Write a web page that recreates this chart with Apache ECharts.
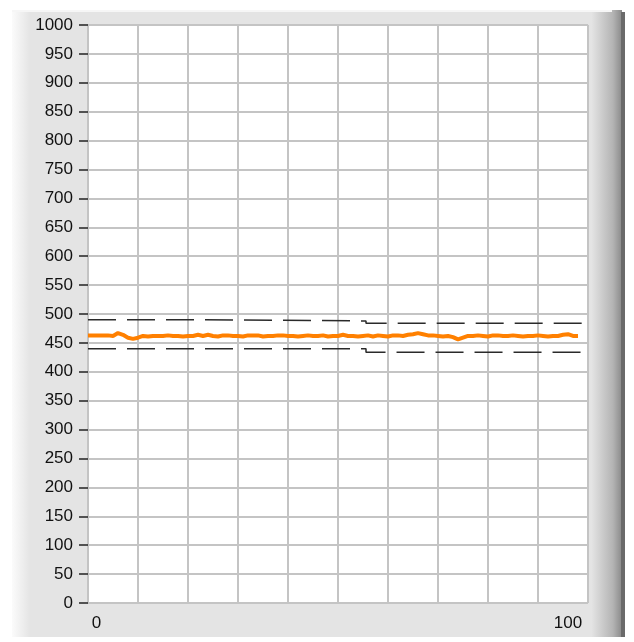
<!DOCTYPE html>
<html>
<head>
<meta charset="utf-8">
<script src="https://cdn.jsdelivr.net/npm/echarts@6/dist/echarts.min.js"></script>
<style>
  html, body { margin: 0; padding: 0; background: #fff; }
  #charts { width: 634px; height: 642px; }
</style>
</head>
<body>
<div id="charts"></div>
<script>
// measured signal, one sample per x step
var signal = [
    463, 463, 463, 463, 463, 462, 467, 464, 459, 457,
    459, 462, 461, 462, 462, 462, 463, 462, 462, 461,
    462, 462, 464, 462, 464, 462, 461, 463, 463, 462,
    462, 461, 463, 463, 463, 461, 462, 462, 463, 463,
    462, 462, 461, 462, 463, 462, 462, 463, 461, 462,
    462, 464, 462, 462, 461, 462, 463, 461, 463, 462,
    461, 463, 463, 462, 464, 465, 467, 465, 463, 463,
    462, 461, 462, 460, 456, 459, 462, 462, 463, 462,
    461, 463, 463, 462, 462, 463, 462, 461, 462, 462,
    463, 462, 461, 462, 462, 464, 465, 462, 462
];

// tolerance band (step changes)
var upperX = [0, 23.4, 55.6, 100];
var upperY = [490, 488, 484, 484];
var lowerX = [0, 55.6, 100];
var lowerY = [440, 434, 434];

var xLabels = [0, 100];

function pairs(xs, ys) {
    return xs.map(function (x, i) { return [x, ys[i]]; });
}

var labelFont = '"Liberation Sans", Arial, sans-serif';

function initECharts(myChart) {
    var option = {
        animation: false,
        graphic: {
            elements: [
                {
                    type: 'rect',
                    z: -10,
                    shape: { x: 12, y: 10, width: 610, height: 627 },
                    style: {
                        fill: {
                            type: 'linear', x: 0, y: 0, x2: 1, y2: 0,
                            colorStops: [
                                { offset: 0, color: '#fbfbfb' },
                                { offset: 0.03, color: '#e4e4e4' },
                                { offset: 0.95, color: '#e4e4e4' },
                                { offset: 0.985, color: '#b4b4b4' },
                                { offset: 1, color: '#8a8a8a' }
                            ]
                        }
                    }
                },
                {
                    type: 'rect',
                    z: -10,
                    shape: { x: 621, y: 12, width: 4, height: 625 },
                    style: { fill: '#6a6a6a' }
                },
                {
                    type: 'rect',
                    z: -10,
                    shape: { x: 12, y: 10, width: 600, height: 2 },
                    style: { fill: '#f6f6f6' }
                }
            ]
        },
        grid: {
            left: 88,
            right: 46,
            top: 25,
            bottom: 39,
            show: true,
            backgroundColor: '#ffffff',
            borderWidth: 0
        },
        xAxis: {
            type: 'value',
            min: 0,
            max: 100,
            interval: 10,
            axisLine: { show: false },
            axisTick: { show: false },
            splitLine: { lineStyle: { color: '#c4c4c4', width: 2 } },
            axisLabel: {
                margin: 12,
                showMinLabel: true,
                showMaxLabel: true,
                formatter: function (v) {
                    if (v === xLabels[0]) return '{a|' + v + '}';
                    if (v === xLabels[1]) return '{b|' + v + '}';
                    return '';
                },
                rich: {
                    a: { fontSize: 17, fontFamily: labelFont, color: '#111', padding: [0, 0, 0, 17] },
                    b: { fontSize: 17, fontFamily: labelFont, color: '#111', padding: [0, 40, 0, 0] }
                }
            }
        },
        yAxis: {
            type: 'value',
            min: 0,
            max: 1000,
            interval: 50,
            axisLine: { show: true, lineStyle: { color: '#c4c4c4', width: 2 } },
            axisTick: { show: true, length: 9, lineStyle: { color: '#222', width: 1.5 } },
            splitLine: { lineStyle: { color: '#c4c4c4', width: 2 } },
            axisLabel: {
                margin: 15,
                fontSize: 17,
                fontFamily: labelFont,
                color: '#111',
                formatter: function (v) { return String(v); }
            }
        },
        series: [
            {
                type: 'line',
                data: pairs(upperX, upperY),
                step: 'end',
                symbol: 'none',
                lineStyle: { color: '#2a2a2a', width: 1.5, type: [28, 11] },
                z: 2
            },
            {
                type: 'line',
                data: pairs(lowerX, lowerY),
                step: 'end',
                symbol: 'none',
                lineStyle: { color: '#2a2a2a', width: 1.5, type: [28, 11] },
                z: 2
            },
            {
                type: 'line',
                data: signal.map(function (v, i) { return [i, v]; }),
                symbol: 'none',
                lineStyle: { color: '#ff8000', width: 4 },
                z: 3
            }
        ]
    };

    myChart.setOption(option);
}

window.onload = function () {
    var myChart = echarts.init(document.getElementById('charts'));
    initECharts(myChart);
};
</script>
</body>
</html>
